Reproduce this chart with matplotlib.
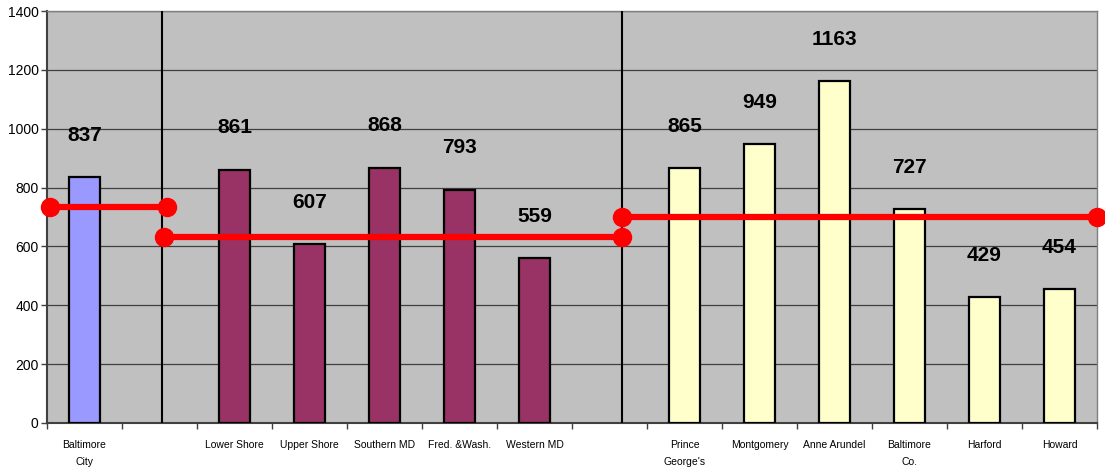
import matplotlib.pyplot as plt
import numpy as np

plt.rcParams['font.family'] = ['Liberation Sans', 'DejaVu Sans']

# Regions / jurisdictions, blank slots separate the three groups
labels = ['Baltimore\nCity', '', 'Lower Shore', 'Upper Shore', 'Southern MD', 'Fred. &Wash.',
          'Western MD', '', 'Prince\nGeorge\'s', 'Montgomery', 'Anne Arundel', 'Baltimore\nCo.',
          'Harford', 'Howard']
values = [837, None, 861, 607, 868, 793, 559, None, 865, 949, 1163, 727, 429, 454]
groups = ['city', None, 'rural', 'rural', 'rural', 'rural', 'rural', None,
          'suburb', 'suburb', 'suburb', 'suburb', 'suburb', 'suburb']

# Group averages (red lines), with the x span each one covers
avg_values = [733, 632, 701]
avg_spans = [(-0.46, 1.10), (1.06, 7.17), (7.17, 13.5)]
dividers = [1.03, 7.17]

colors = {'city': '#9999FF', 'rural': '#993366', 'suburb': '#FFFFCC'}

fig = plt.figure(figsize=(11.05, 4.71), dpi=100)
ax = fig.add_axes([47 / 1105, 48 / 471, 1050 / 1105, 412 / 471])
ax.set_facecolor('#C0C0C0')

x = np.arange(len(labels))
for i, (v, g) in enumerate(zip(values, groups)):
    if v is None:
        continue
    ax.bar(i, v, width=0.42, color=colors[g], edgecolor='black', linewidth=1.6, zorder=3)
    ax.annotate(str(v), (i, v), xytext=(0, 30), textcoords='offset points',
                ha='center', va='center', fontsize=15, fontweight='bold', zorder=6)

for d in dividers:
    ax.axvline(d, color='black', linewidth=1.5, zorder=4)

for (x0, x1), a in zip(avg_spans, avg_values):
    ax.plot([x0, x1], [a, a], color='#FF0000', linewidth=4.5, marker='o',
            markersize=13, zorder=5, clip_on=False)

ax.set_xlim(-0.5, 13.5)
ax.set_ylim(0, 1400)
ax.set_yticks(np.arange(0, 1401, 200))
ax.yaxis.grid(True, color='#404040', linewidth=0.9, zorder=1)
ax.set_axisbelow(True)

ax.set_xticks(x)
ax.set_xticklabels(labels, fontsize=7.5, linespacing=1.9, va='top')
ax.tick_params(axis='x', which='major', length=0, pad=12)
ax.set_xticks(np.arange(-0.5, 13.6, 1), minor=True)
ax.tick_params(axis='x', which='minor', length=4, width=1, color='#404040', direction='out')
ax.tick_params(axis='y', labelsize=10, length=4, width=1, color='#404040', pad=2)

for s in ['left', 'bottom']:
    ax.spines[s].set_color('#404040')
    ax.spines[s].set_linewidth(1.5)
for s in ['top', 'right']:
    ax.spines[s].set_color('#808080')
    ax.spines[s].set_linewidth(1)

fig.savefig('out.png', dpi=100)
